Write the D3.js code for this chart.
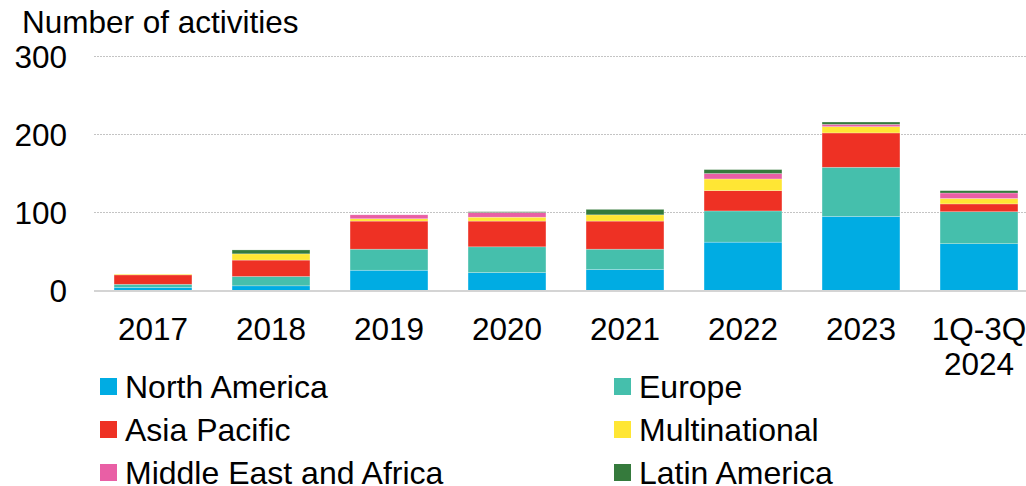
<!DOCTYPE html>
<html>
<head>
<meta charset="utf-8">
<script src="https://cdn.jsdelivr.net/npm/d3@7"></script>
<style>
  html, body { margin: 0; padding: 0; background: #fff; }
  svg { display: block; }
  text { font-family: "Liberation Sans", Arial, sans-serif; fill: #000; }
</style>
</head>
<body>
<svg id="chart" width="1026" height="486"></svg>
<script>
const categories = ["2017", "2018", "2019", "2020", "2021", "2022", "2023", "1Q-3Q 2024"];
const seriesNames = ["North America", "Europe", "Asia Pacific", "Multinational", "Middle East and Africa", "Latin America"];
const northAmerica = [4, 6, 26, 23, 27, 62, 95, 60];
const europe       = [4, 12, 27, 33, 26, 40, 63, 41];
const asiaPacific  = [12, 21, 36, 33, 36, 26, 44, 10];
const multinational= [1, 8, 3, 5, 8, 15, 8, 7];
const middleEast   = [0, 0, 5, 6, 0, 7, 3, 7];
const latinAmerica = [0, 5, 0, 1, 7, 5, 3, 3];
const yTicks = [0, 100, 200, 300];
const colors = ["#00ace3", "#45bfac", "#ee3124", "#ffe634", "#e95fa5", "#357a3c"];

const seriesValues = [northAmerica, europe, asiaPacific, multinational, middleEast, latinAmerica];
const rows = categories.map((c, i) => {
  const r = { cat: c };
  seriesNames.forEach((s, j) => r[s] = seriesValues[j][i]);
  return r;
});

const svg = d3.select("#chart");
const x = d3.scaleBand().domain(categories).range([94, 1038]).paddingInner(0.34).paddingOuter(0.17);
const y = d3.scaleLinear().domain([0, 300]).range([290.5, 56.5]);

// gridlines
svg.append("g").selectAll("line").data(yTicks.filter(t => t > 0)).join("line")
  .attr("x1", 94).attr("x2", 1026)
  .attr("y1", d => y(d)).attr("y2", d => y(d))
  .attr("stroke", "#c4c4c4").attr("stroke-width", 1).attr("stroke-dasharray", "2,1");

// y tick labels
const yAxis = d3.axisLeft(y).tickValues(yTicks).tickSize(0).tickPadding(0);
const gy = svg.append("g").attr("transform", "translate(67,0)").call(yAxis);
gy.select(".domain").remove();
gy.selectAll("text").attr("font-size", 31.5).attr("font-family", "Liberation Sans, Arial, sans-serif").attr("fill", "#000").attr("dy", "0.35em");

// stacked bars
const stack = d3.stack().keys(seriesNames);
const stacked = stack(rows);
svg.append("g").selectAll("g").data(stacked).join("g")
  .attr("fill", (d, i) => colors[i])
  .selectAll("rect").data(d => d.filter(p => p[1] - p[0] > 0)).join("rect")
  .attr("x", d => x(d.data.cat))
  .attr("width", x.bandwidth())
  .attr("y", d => y(d[1]))
  .attr("height", d => y(d[0]) - y(d[1]))
  .attr("stroke", "#ffffff").attr("stroke-opacity", 0.4).attr("stroke-width", 0.6);

// baseline
svg.append("line").attr("x1", 94).attr("x2", 1026).attr("y1", y(0) + 0.5).attr("y2", y(0) + 0.5)
  .attr("stroke", "#d4d4d4").attr("stroke-width", 2);

// x labels
const xAxis = d3.axisBottom(x).tickSize(0).tickPadding(0);
const gx = svg.append("g").call(xAxis);
gx.select(".domain").remove();
gx.selectAll(".tick text").each(function(d) {
  const t = d3.select(this);
  t.text(null).attr("y", 0).attr("dy", null)
    .attr("font-size", 31.5).attr("font-family", "Liberation Sans, Arial, sans-serif").attr("fill", "#000");
  const parts = d.split(" ");
  parts.forEach((p, i) => {
    t.append("tspan").attr("x", 0).attr("y", 340 + i * 35).text(p);
  });
});

// title
svg.append("text").attr("x", 22).attr("y", 33).attr("font-size", 31.5).text("Number of activities");

// legend
const legCols = [100, 614];
const legRows = [378, 421, 464];
const leg = svg.append("g").selectAll("g").data(seriesNames).join("g")
  .attr("transform", (d, i) => `translate(${legCols[i % 2]},${legRows[Math.floor(i / 2)]})`);
leg.append("rect").attr("width", 17).attr("height", 17).attr("fill", (d, i) => colors[i]);
leg.append("text").attr("x", 25).attr("y", 8.5).attr("dy", "0.35em").attr("font-size", 32).text(d => d);
</script>
</body>
</html>
